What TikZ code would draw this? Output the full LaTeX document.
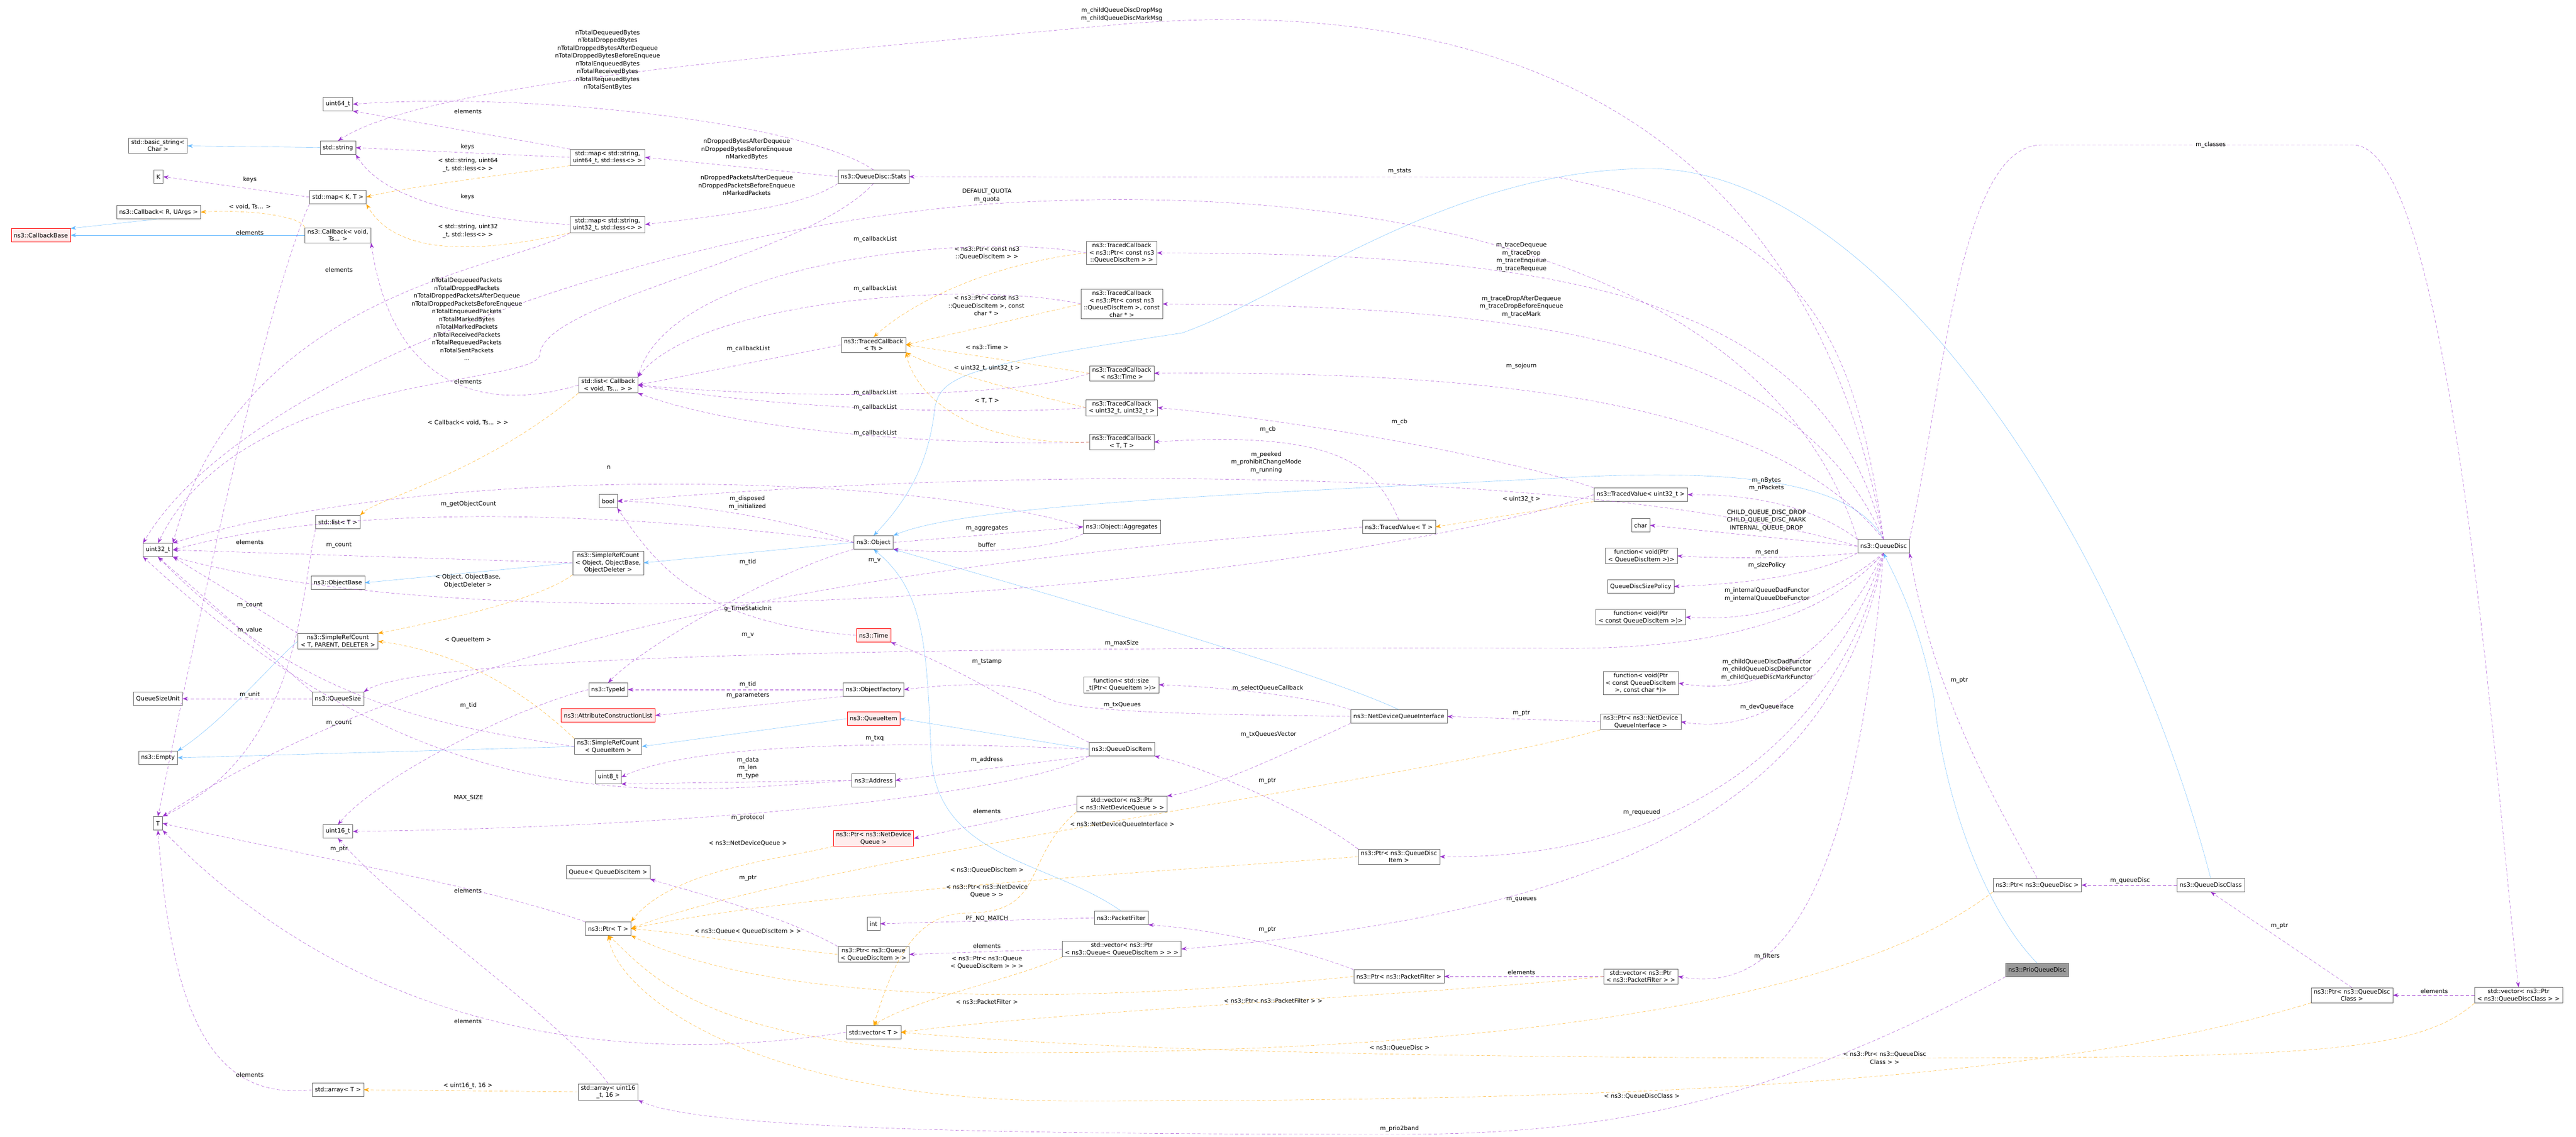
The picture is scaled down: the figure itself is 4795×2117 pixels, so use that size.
\documentclass[tikz,border=0pt]{standalone}
\usepackage{fontspec}
\setmainfont{DejaVu Sans}
\usetikzlibrary{arrows.meta}

\definecolor{usecol}{HTML}{9A32CD}
\definecolor{tplcol}{HTML}{FFA500}
\definecolor{inhcol}{HTML}{63B8FF}

\tikzset{
  box/.style={draw=black!60, fill=white, font=\fontsize{11}{13.5}\selectfont, align=center,
    inner xsep=5pt, inner ysep=3pt, minimum height=25pt},
  redbox/.style={box, draw=red, fill=red!7},
  graybox/.style={box, fill=black!40},
  lbl/.style={font=\fontsize{11}{14.5}\selectfont, align=center, inner sep=0pt},
  use/.style={usecol, dashed, dash pattern=on 6pt off 4pt, -{Stealth[length=10pt,width=7pt]}},
  tpl/.style={tplcol, dashed, dash pattern=on 6pt off 4pt, -{Stealth[length=10pt,width=7pt]}},
  inh/.style={inhcol, -{Stealth[length=10pt,width=7pt]}},
}

\begin{document}
\begin{tikzpicture}[x=1pt,y=-1pt]
\useasboundingbox (0,0) rectangle (4795,2117);

% classes
\node[box] (u64) at (629,194) {uint64\_t};
\node[box] (bstr) at (294,271) {std::basic\_string<\\Char >};
\node[box] (str) at (629,275) {std::string};
\node[box] (K) at (295,329) {K};
\node[box] (mapKT) at (629,367) {std::map< K, T >};
\node[box] (cbR) at (295,395) {ns3::Callback< R, UArgs >};
\node[redbox] (cbBase) at (76,438) {ns3::CallbackBase};
\node[box] (cbVoid) at (629,438) {ns3::Callback< void,\\Ts... >};
\node[box] (map64) at (1131,293) {std::map< std::string,\\uint64\_t, std::less<> >};
\node[box] (map32) at (1131,418) {std::map< std::string,\\uint32\_t, std::less<> >};
\node[box] (cbList) at (1132,717) {std::list< Callback\\< void, Ts... > >};
\node[box] (stats) at (1626,329) {ns3::QueueDisc::Stats};
\node[box] (tcPtr) at (2088,471) {ns3::TracedCallback\\< ns3::Ptr< const ns3\\::QueueDiscItem > >};
\node[box] (tcPtrChar) at (2088,566) {ns3::TracedCallback\\< ns3::Ptr< const ns3\\::QueueDiscItem >, const\\char * >};
\node[box] (tcTs) at (1626,642) {ns3::TracedCallback\\< Ts >};
\node[box] (tcTime) at (2088,695) {ns3::TracedCallback\\< ns3::Time >};
\node[box] (tcU32) at (2088,759) {ns3::TracedCallback\\< uint32\_t, uint32\_t >};
\node[box] (tcTT) at (2088,823) {ns3::TracedCallback\\< T, T >};
\node[box] (aggr) at (2088,981) {ns3::Object::Aggregates};
\node[box] (obj) at (1626,1010) {ns3::Object};
\node[box] (tvU32) at (3054,921) {ns3::TracedValue< uint32\_t >};
\node[box] (tvT) at (2604,981) {ns3::TracedValue< T >};
\node[box] (chr) at (3054,978) {char};
\node[box] (fnSend) at (3055,1035) {function< void(Ptr\\< QueueDiscItem >)>};
\node[box] (qd) at (3506,1017) {ns3::QueueDisc};
\node[box] (sizePol) at (3054,1092) {QueueDiscSizePolicy};
\node[box] (fnConst) at (3054,1149) {function< void(Ptr\\< const QueueDiscItem >)>};
\node[box] (fnChar) at (3054,1272) {function< void(Ptr\\< const QueueDiscItem\\>, const char *)>};
\node[box] (ndqi) at (2604,1334) {ns3::NetDeviceQueueInterface};
\node[box] (ptrNdqi) at (3054,1344) {ns3::Ptr< ns3::NetDevice\\QueueInterface >};
\node[box] (ptrQdi) at (2604,1595) {ns3::Ptr< ns3::QueueDisc\\Item >};
\node[box] (ptrPf) at (2604,1818) {ns3::Ptr< ns3::PacketFilter >};
\node[box] (vecPf) at (3054,1818) {std::vector< ns3::Ptr\\< ns3::PacketFilter > >};
\node[box] (ptrQd) at (3792,1648) {ns3::Ptr< ns3::QueueDisc >};
\node[box] (qdc) at (4115,1648) {ns3::QueueDiscClass};
\node[graybox] (prio) at (3792,1806) {ns3::PrioQueueDisc};
\node[box] (ptrQdc) at (4378,1853) {ns3::Ptr< ns3::QueueDisc\\Class >};
\node[box] (vecQdc) at (4688,1853) {std::vector< ns3::Ptr\\< ns3::QueueDiscClass > >};
\node[box] (bool) at (1132,933) {bool};
\node[box] (listT) at (629,972) {std::list< T >};
\node[box] (u32) at (294,1024) {uint32\_t};
\node[box] (srcObj) at (1132,1048) {ns3::SimpleRefCount\\< Object, ObjectBase,\\ObjectDeleter >};
\node[box] (objBase) at (629,1085) {ns3::ObjectBase};
\node[box] (srcT) at (629,1194) {ns3::SimpleRefCount\\< T, PARENT, DELETER >};
\node[box] (qsUnit) at (294,1301) {QueueSizeUnit};
\node[box] (qsize) at (629,1301) {ns3::QueueSize};
\node[box] (typeId) at (1132,1284) {ns3::TypeId};
\node[redbox] (attrList) at (1132,1332) {ns3::AttributeConstructionList};
\node[box] (empty) at (294,1411) {ns3::Empty};
\node[box] (srcQi) at (1132,1390) {ns3::SimpleRefCount\\< QueueItem >};
\node[box] (u8) at (1132,1447) {uint8\_t};
\node[box] (T) at (294,1533) {T};
\node[box] (u16) at (629,1548) {uint16\_t};
\node[box] (queue) at (1132,1624) {Queue< QueueDiscItem >};
\node[box] (ptrT) at (1132,1729) {ns3::Ptr< T >};
\node[box] (arrT) at (629,2029) {std::array< T >};
\node[box] (arr16) at (1132,2033) {std::array< uint16\\\_t, 16 >};
\node[redbox] (time) at (1626,1183) {ns3::Time};
\node[box] (fnSize) at (2087,1275) {function< std::size\\\_t(Ptr< QueueItem >)>};
\node[box] (objFac) at (1626,1284) {ns3::ObjectFactory};
\node[redbox] (qItem) at (1626,1338) {ns3::QueueItem};
\node[box] (qdItem) at (2088,1395) {ns3::QueueDiscItem};
\node[box] (addr) at (1626,1453) {ns3::Address};
\node[box] (vecNdq) at (2088,1497) {std::vector< ns3::Ptr\\< ns3::NetDeviceQueue > >};
\node[redbox] (ptrNdq) at (1626,1561) {ns3::Ptr< ns3::NetDevice\\Queue >};
\node[box] (int) at (1626,1720) {int};
\node[box] (pf) at (2087,1709) {ns3::PacketFilter};
\node[box] (ptrQueue) at (1626,1777) {ns3::Ptr< ns3::Queue\\< QueueDiscItem > >};
\node[box] (vecQueue) at (2088,1767) {std::vector< ns3::Ptr\\< ns3::Queue< QueueDiscItem > > >};
\node[box] (vecT) at (1626,1922) {std::vector< T >};

% inheritance
\draw[inh] (str) -- (bstr);
\draw[inh] (cbR.south) -- (cbBase.north east);
\draw[inh] (cbVoid.west) -- (cbBase.east);
\draw[inh] (obj.west) -- (srcObj.east);
\draw[inh] (srcObj.west) -- (objBase.east);
\draw[inh] (srcT.west) .. controls (520,1220) and (420,1340) .. (empty.north east);
\draw[inh] (srcQi.west) -- (empty.east);
\draw[inh] (qItem.west) -- (srcQi.east);
\draw[inh] (qdItem.west) -- (qItem.east);
\draw[inh] (qd.north) .. controls (3450,900) and (3250,870) .. (2900,890) .. controls (2300,920) and (1800,940) .. (obj.north east);
\draw[inh] (qdc.north) .. controls (3950,1000) and (3500,314) .. (3070,314) .. controls (2700,314) and (2400,550) .. (2200,620) .. controls (1800,680) and (1750,700) .. (1740,760) .. controls (1730,850) and (1700,920) .. (obj.north);
\draw[inh] (prio.north) .. controls (3700,1700) and (3620,1500) .. (3600,1300) .. controls (3570,1150) and (3530,1080) .. (qd.south);
\draw[inh] (ndqi.north) .. controls (2450,1250) and (2000,1120) .. (obj.south east);
\draw[inh] (pf.north) .. controls (1950,1600) and (1740,1600) .. (1733,1400) .. controls (1725,1200) and (1720,1100) .. (obj.south);

% members
\draw[use] (stats.north) .. controls (1500,230) and (1000,170) .. (u64.east);
\draw[use] (qd.north) .. controls (3400,400) and (3000,-30) .. (2088,45) .. controls (1500,100) and (800,150) .. (str.north);
\draw[use] (map64.north west) -- (u64.south east);
\draw[use] (map64.west) -- (str.east);
\draw[use] (map32.west) .. controls (900,410) and (720,380) .. (str.south east);
\draw[use] (stats.west) -- (map64.east);
\draw[use] (stats.south west) .. controls (1500,380) and (1400,395) .. (map32.east);
\draw[use] (mapKT.west) -- (K.east);
\draw[use] (map32.south west) .. controls (950,500) and (450,540) .. (u32.north east);
\draw[use] (stats.south) .. controls (1500,480) and (1010,560) .. (1005,660) .. controls (1000,720) and (450,690) .. (u32.north);
\draw[use] (cbList.west) .. controls (900,770) and (730,720) .. (cbVoid.south east);
\draw[use] (mapKT.south west) .. controls (520,500) and (420,900) .. (T.north);
\draw[use] (listT.south west) .. controls (560,1100) and (560,1400) .. (T.north east);
\draw[use] (qd.north west) .. controls (3300,500) and (2600,330) .. (1837,380) .. controls (1200,430) and (450,700) .. (u32.north west);
\draw[use] (aggr.west) .. controls (1700,880) and (800,860) .. (u32.north east);
\draw[use] (obj.west) .. controls (1300,970) and (700,920) .. (u32.east);
\draw[use] (srcObj.west) -- (u32.east);
\draw[use] (tvU32.west) .. controls (2500,1080) and (1000,1220) .. (u32.south east);
\draw[use] (srcT.north west) -- (u32.south east);
\draw[use] (qsize.north west) -- (u32.south);
\draw[use] (srcQi.west) .. controls (800,1350) and (550,1300) .. (u32.south);
\draw[use] (addr.west) .. controls (1200,1480) and (800,1530) .. (u32.south west);
\draw[use] (qd.west) .. controls (3000,880) and (2000,860) .. (bool.east);
\draw[use] (obj.west) .. controls (1450,960) and (1250,935) .. (bool.east);
\draw[use] (time.west) .. controls (1300,1160) and (1220,1050) .. (bool.south east);
\draw[use] (qd.north west) .. controls (3400,960) and (3300,920) .. (tvU32.east);
\draw[use] (tvU32.north west) .. controls (2800,850) and (2400,780) .. (tcU32.east);
\draw[use] (tvT.north) .. controls (2560,870) and (2500,800) .. (tcTT.east);
\draw[use] (tvT.west) .. controls (2300,1010) and (1000,1060) .. (T.north east);
\draw[use] (tcPtr.west) .. controls (1800,430) and (1250,490) .. (cbList.north east);
\draw[use] (tcPtrChar.west) .. controls (1800,520) and (1300,560) .. (cbList.north east);
\draw[use] (tcTs.west) -- (cbList.east);
\draw[use] (tcTime.west) .. controls (1900,740) and (1500,745) .. (cbList.east);
\draw[use] (tcU32.west) .. controls (1900,770) and (1500,770) .. (cbList.east);
\draw[use] (tcTT.west) .. controls (1800,830) and (1400,810) .. (cbList.south east);
\draw[use] (qd.north) .. controls (3400,550) and (2900,470) .. (tcPtr.east);
\draw[use] (qd.north) .. controls (3350,650) and (2900,570) .. (tcPtrChar.east);
\draw[use] (qd.north) .. controls (3300,750) and (2800,690) .. (tcTime.east);
\draw[use] (qd.north) .. controls (3450,600) and (3350,420) .. (2900,330) -- (stats.east);
\draw[use] (qd.west) -- (chr.east);
\draw[use] (qd.south west) .. controls (3350,1040) and (3200,1040) .. (fnSend.east);
\draw[use] (qd.south west) .. controls (3400,1060) and (3300,1085) .. (sizePol.east);
\draw[use] (qd.south) .. controls (3420,1100) and (3300,1160) .. (fnConst.east);
\draw[use] (qd.south) .. controls (3400,1150) and (3200,1210) .. (2900,1207) .. controls (2000,1205) and (800,1210) .. (qsize.north east);
\draw[use] (qd.south) .. controls (3420,1200) and (3300,1300) .. (fnChar.east);
\draw[use] (qd.south) .. controls (3430,1250) and (3300,1370) .. (ptrNdqi.east);
\draw[use] (qd.south) .. controls (3420,1400) and (3100,1600) .. (ptrQdi.east);
\draw[use] (qd.south) .. controls (3420,1500) and (3000,1700) .. (vecQueue.east);
\draw[use] (qd.south) .. controls (3450,1700) and (3300,1850) .. (vecPf.east);
\draw[use] (qd.north east) .. controls (3620,700) and (3650,270) .. (3800,270) -- (4380,270) .. controls (4560,270) and (4640,1400) .. (vecQdc.north);
\draw[use] (ptrQd.north) .. controls (3720,1500) and (3600,1300) .. (qd.south east);
\draw[use] (qdc.west) -- (ptrQd.east);
\draw[use] (ptrQdc.north) -- (qdc.south);
\draw[use] (vecQdc.west) -- (ptrQdc.east);
\draw[use] (prio.south west) .. controls (3300,2050) and (3000,2112) .. (2605,2112) .. controls (1800,2112) and (1300,2100) .. (arr16.south east);
\draw[use] (ptrNdqi.west) -- (ndqi.east);
\draw[use] (ndqi.north west) .. controls (2450,1300) and (2300,1280) .. (fnSize.east);
\draw[use] (ndqi.west) .. controls (2300,1330) and (2000,1330) .. (1950,1300) .. controls (1900,1270) and (1800,1270) .. (objFac.east);
\draw[use] (ndqi.south west) .. controls (2400,1400) and (2250,1470) .. (vecNdq.north east);
\draw[use] (vecNdq.west) -- (ptrNdq.east);
\draw[use] (ptrQdi.north west) .. controls (2450,1520) and (2250,1430) .. (qdItem.south east);
\draw[use] (qdItem.north west) .. controls (1900,1320) and (1800,1250) .. (time.south east);
\draw[use] (qdItem.west) .. controls (1700,1380) and (1300,1380) .. (u8.east);
\draw[use] (qdItem.south west) -- (addr.east);
\draw[use] (qdItem.south west) .. controls (1900,1480) and (1300,1540) .. (u16.east);
\draw[use] (addr.west) -- (u8.south east);
\draw[use] (obj.south west) .. controls (1450,1060) and (1200,1200) .. (typeId.north);
\draw[use] (objFac.west) -- (typeId.east);
\draw[use] (objFac.south west) -- (attrList.east);
\draw[use] (obj.east) -- (aggr.west);
\draw[use] (aggr.south west) .. controls (1950,1030) and (1750,1030) .. (obj.south east);
\draw[use] (qsize.west) -- (qsUnit.east);
\draw[use] (typeId.west) .. controls (950,1320) and (700,1450) .. (u16.north);
\draw[use] (ptrT.north west) .. controls (900,1650) and (600,1600) .. (T.east);
\draw[use] (arr16.north) .. controls (1050,1900) and (750,1700) .. (u16.south);
\draw[use] (vecT.west) .. controls (1200,1980) and (700,1950) .. (T.south east);
\draw[use] (arrT.west) .. controls (400,2050) and (320,1900) .. (T.south);
\draw[use] (ptrQueue.north west) .. controls (1450,1700) and (1250,1650) .. (queue.south east);
\draw[use] (vecQueue.west) -- (ptrQueue.east);
\draw[use] (pf.west) -- (int.east);
\draw[use] (ptrPf.north west) .. controls (2400,1760) and (2250,1730) .. (pf.south east);
\draw[use] (vecPf.west) -- (ptrPf.east);

% template instances
\draw[tpl] (map64.south west) .. controls (900,330) and (750,350) .. (mapKT.east);
\draw[tpl] (map32.south west) .. controls (900,470) and (740,480) .. (mapKT.south east);
\draw[tpl] (cbVoid.north west) .. controls (560,400) and (450,390) .. (cbR.east);
\draw[tpl] (cbList.south west) .. controls (900,880) and (700,930) .. (listT.north east);
\draw[tpl] (tcPtr.west) .. controls (1850,490) and (1700,560) .. (tcTs.north);
\draw[tpl] (tcPtrChar.west) -- (tcTs.east);
\draw[tpl] (tcTime.west) -- (tcTs.east);
\draw[tpl] (tcU32.west) .. controls (1900,730) and (1750,690) .. (tcTs.south east);
\draw[tpl] (tcTT.west) .. controls (1780,830) and (1700,720) .. (tcTs.south east);
\draw[tpl] (tvU32.south west) -- (tvT.east);
\draw[tpl] (srcObj.south west) .. controls (1000,1120) and (800,1160) .. (srcT.north east);
\draw[tpl] (srcQi.north west) .. controls (1020,1330) and (900,1220) .. (srcT.east);
\draw[tpl] (arr16.west) -- (arrT.east);
\draw[tpl] (ptrNdq.south west) .. controls (1450,1600) and (1250,1620) .. (ptrT.north east);
\draw[tpl] (ptrNdqi.south west) .. controls (2700,1440) and (1500,1600) .. (ptrT.east);
\draw[tpl] (ptrQdi.west) .. controls (2200,1620) and (1500,1660) .. (ptrT.east);
\draw[tpl] (ptrQueue.west) .. controls (1400,1760) and (1300,1740) .. (ptrT.east);
\draw[tpl] (ptrPf.west) .. controls (2200,1850) and (1500,1900) .. (ptrT.south east);
\draw[tpl] (ptrQd.south west) .. controls (3400,1900) and (2600,1960) .. (1900,1960) .. controls (1300,1960) and (1200,1800) .. (ptrT.south);
\draw[tpl] (ptrQdc.south west) .. controls (3800,2020) and (3000,2050) .. (2000,2050) .. controls (1400,2050) and (1150,1850) .. (ptrT.south);
\draw[tpl] (vecNdq.south west) .. controls (1900,1600) and (1950,1700) .. (1800,1700) .. controls (1700,1700) and (1660,1800) .. (vecT.north);
\draw[tpl] (vecQueue.south west) .. controls (1900,1820) and (1700,1860) .. (vecT.north);
\draw[tpl] (vecPf.west) .. controls (2700,1850) and (2000,1880) .. (vecT.east);
\draw[tpl] (vecQdc.south west) .. controls (4500,1960) and (4300,1970) .. (3500,1970) .. controls (2500,1970) and (2000,1950) .. (vecT.east);

% labels
\node[lbl] (lBytes) at (1131,112) {nTotalDequeuedBytes\\nTotalDroppedBytes\\nTotalDroppedBytesAfterDequeue\\nTotalDroppedBytesBeforeEnqueue\\nTotalEnqueuedBytes\\nTotalReceivedBytes\\nTotalRequeuedBytes\\nTotalSentBytes};
\node[lbl] (lMsg) at (2088,27) {m\_childQueueDiscDropMsg\\m\_childQueueDiscMarkMsg};
\node[lbl] (lElemStr) at (871,207) {elements};
\node[lbl] (lKeys64) at (870,273) {keys};
\node[lbl] (lTpl64) at (871,307) {< std::string, uint64\\\_t, std::less<> >};
\node[lbl] (lKeysK) at (465,334) {keys};
\node[lbl] (lVoidTs) at (465,385) {< void, Ts... >};
\node[lbl] (lElemCb) at (465,433) {elements};
\node[lbl] (lKeys32) at (870,366) {keys};
\node[lbl] (lTpl32) at (871,430) {< std::string, uint32\\\_t, std::less<> >};
\node[lbl] (lElem32) at (631,502) {elements};
\node[lbl] (lPackets) at (869,594) {nTotalDequeuedPackets\\nTotalDroppedPackets\\nTotalDroppedPacketsAfterDequeue\\nTotalDroppedPacketsBeforeEnqueue\\nTotalEnqueuedPackets\\nTotalMarkedBytes\\nTotalMarkedPackets\\nTotalReceivedPackets\\nTotalRequeuedPackets\\nTotalSentPackets\\...};
\node[lbl] (lElemList) at (871,710) {elements};
\node[lbl] (lTplList) at (871,787) {< Callback< void, Ts... > >};
\node[lbl] (lN) at (1133,870) {n};
\node[lbl] (lDropB) at (1390,278) {nDroppedBytesAfterDequeue\\nDroppedBytesBeforeEnqueue\\nMarkedBytes};
\node[lbl] (lDropP) at (1390,345) {nDroppedPacketsAfterDequeue\\nDroppedPacketsBeforeEnqueue\\nMarkedPackets};
\node[lbl] (lQuota) at (1837,364) {DEFAULT\_QUOTA\\m\_quota};
\node[lbl] (lCbl1) at (1629,446) {m\_callbackList};
\node[lbl] (lTplTc1) at (1837,471) {< ns3::Ptr< const ns3\\::QueueDiscItem > >};
\node[lbl] (lCbl2) at (1629,538) {m\_callbackList};
\node[lbl] (lTplTc2) at (1836,569) {< ns3::Ptr< const ns3\\::QueueDiscItem >, const\\char * >};
\node[lbl] (lCbl3) at (1393,650) {m\_callbackList};
\node[lbl] (lTplTime) at (1837,646) {< ns3::Time >};
\node[lbl] (lTplU32) at (1837,686) {< uint32\_t, uint32\_t >};
\node[lbl] (lCbl4) at (1629,732) {m\_callbackList};
\node[lbl] (lTplTT) at (1837,746) {< T, T >};
\node[lbl] (lCbl5) at (1629,759) {m\_callbackList};
\node[lbl] (lCbl6) at (1629,807) {m\_callbackList};
\node[lbl] (lCbT) at (2360,800) {m\_cb};
\node[lbl] (lPeeked) at (2357,861) {m\_peeked\\m\_prohibitChangeMode\\m\_running};
\node[lbl] (lDisposed) at (1391,936) {m\_disposed\\m\_initialized};
\node[lbl] (lAggr) at (1837,984) {m\_aggregates};
\node[lbl] (lBuffer) at (1837,1014) {buffer};
\node[lbl] (lTidObj) at (1392,1047) {m\_tid};
\node[lbl] (lVT) at (1628,1044) {m\_v};
\node[lbl] (lStats) at (2605,319) {m\_stats};
\node[lbl] (lTrace) at (2832,479) {m\_traceDequeue\\m\_traceDrop\\m\_traceEnqueue\\m\_traceRequeue};
\node[lbl] (lTraceDrop) at (2832,571) {m\_traceDropAfterDequeue\\m\_traceDropBeforeEnqueue\\m\_traceMark};
\node[lbl] (lSojourn) at (2832,682) {m\_sojourn};
\node[lbl] (lCbU32) at (2605,786) {m\_cb};
\node[lbl] (lNBytes) at (3288,902) {m\_nBytes\\m\_nPackets};
\node[lbl] (lTplTv) at (2832,930) {< uint32\_t >};
\node[lbl] (lChild) at (3288,969) {CHILD\_QUEUE\_DISC\_DROP\\CHILD\_QUEUE\_DISC\_MARK\\INTERNAL\_QUEUE\_DROP};
\node[lbl] (lSend) at (3289,1029) {m\_send};
\node[lbl] (lSizePol) at (3289,1053) {m\_sizePolicy};
\node[lbl] (lClasses) at (4115,270) {m\_classes};
\node[lbl] (lInternal) at (3289,1107) {m\_internalQueueDadFunctor\\m\_internalQueueDbeFunctor};
\node[lbl] (lChildFn) at (3289,1247) {m\_childQueueDiscDadFunctor\\m\_childQueueDiscDbeFunctor\\m\_childQueueDiscMarkFunctor};
\node[lbl] (lDevQ) at (3289,1317) {m\_devQueueIface};
\node[lbl] (lPtrNdqi) at (2832,1328) {m\_ptr};
\node[lbl] (lRequeued) at (3056,1513) {m\_requeued};
\node[lbl] (lQueues) at (2832,1675) {m\_queues};
\node[lbl] (lFilters) at (3289,1781) {m\_filters};
\node[lbl] (lElemPf) at (2832,1810) {elements};
\node[lbl] (lTplQd) at (2605,1951) {< ns3::QueueDisc >};
\node[lbl] (lTplVecQdc) at (3508,1970) {< ns3::Ptr< ns3::QueueDisc\\Class > >};
\node[lbl] (lTplQdc) at (3056,2041) {< ns3::QueueDiscClass >};
\node[lbl] (lPrio) at (2605,2102) {m\_prio2band};
\node[lbl] (lPtrQd) at (3647,1267) {m\_ptr};
\node[lbl] (lQueueDisc) at (3965,1640) {m\_queueDisc};
\node[lbl] (lPtrQdc) at (4243,1724) {m\_ptr};
\node[lbl] (lElemQdc) at (4531,1845) {elements};
\node[lbl] (lGetCount) at (872,939) {m\_getObjectCount};
\node[lbl] (lElemListT) at (465,1009) {elements};
\node[lbl] (lCountObj) at (631,1015) {m\_count};
\node[lbl] (lTplSrcObj) at (871,1082) {< Object, ObjectBase,\\ObjectDeleter >};
\node[lbl] (lCountT) at (465,1127) {m\_count};
\node[lbl] (lValue) at (465,1174) {m\_value};
\node[lbl] (lTplQi) at (871,1191) {< QueueItem >};
\node[lbl] (lUnit) at (465,1294) {m\_unit};
\node[lbl] (lTidType) at (872,1314) {m\_tid};
\node[lbl] (lCountQi) at (631,1346) {m\_count};
\node[lbl] (lMax) at (872,1486) {MAX\_SIZE};
\node[lbl] (lPtrT) at (631,1581) {m\_ptr};
\node[lbl] (lElemPtrT) at (871,1658) {elements};
\node[lbl] (lElemVecT) at (871,1901) {elements};
\node[lbl] (lElemArrT) at (465,2001) {elements};
\node[lbl] (lTplArr) at (871,2022) {< uint16\_t, 16 >};
\node[lbl] (lTimeInit) at (1392,1134) {g\_TimeStaticInit};
\node[lbl] (lVU32) at (1392,1183) {m\_v};
\node[lbl] (lMaxSize) at (2088,1198) {m\_maxSize};
\node[lbl] (lTstamp) at (1837,1232) {m\_tstamp};
\node[lbl] (lTidFac) at (1392,1275) {m\_tid};
\node[lbl] (lParams) at (1392,1295) {m\_parameters};
\node[lbl] (lSelect) at (2360,1282) {m\_selectQueueCallback};
\node[lbl] (lTxQueues) at (2089,1313) {m\_txQueues};
\node[lbl] (lTxVec) at (2361,1368) {m\_txQueuesVector};
\node[lbl] (lTxq) at (1628,1375) {m\_txq};
\node[lbl] (lData) at (1392,1430) {m\_data\\m\_len\\m\_type};
\node[lbl] (lAddress) at (1837,1415) {m\_address};
\node[lbl] (lPtrQdi) at (2359,1454) {m\_ptr};
\node[lbl] (lElemNdq) at (1837,1510) {elements};
\node[lbl] (lProtocol) at (1392,1523) {m\_protocol};
\node[lbl] (lTplNdqi) at (2089,1535) {< ns3::NetDeviceQueueInterface >};
\node[lbl] (lTplNdq) at (1392,1570) {< ns3::NetDeviceQueue >};
\node[lbl] (lPtrQueue) at (1392,1635) {m\_ptr};
\node[lbl] (lTplQdi) at (1837,1620) {< ns3::QueueDiscItem >};
\node[lbl] (lTplVecNdq) at (1837,1659) {< ns3::Ptr< ns3::NetDevice\\Queue > >};
\node[lbl] (lNoMatch) at (1837,1711) {PF\_NO\_MATCH};
\node[lbl] (lTplQueue) at (1392,1734) {< ns3::Queue< QueueDiscItem > >};
\node[lbl] (lElemQueue) at (1837,1761) {elements};
\node[lbl] (lTplVecQueue) at (1837,1792) {< ns3::Ptr< ns3::Queue\\< QueueDiscItem > > >};
\node[lbl] (lTplPf) at (1837,1865) {< ns3::PacketFilter >};
\node[lbl] (lPtrPf) at (2359,1731) {m\_ptr};
\node[lbl] (lTplVecPf) at (2370,1863) {< ns3::Ptr< ns3::PacketFilter > >};
\end{tikzpicture}
\end{document}
